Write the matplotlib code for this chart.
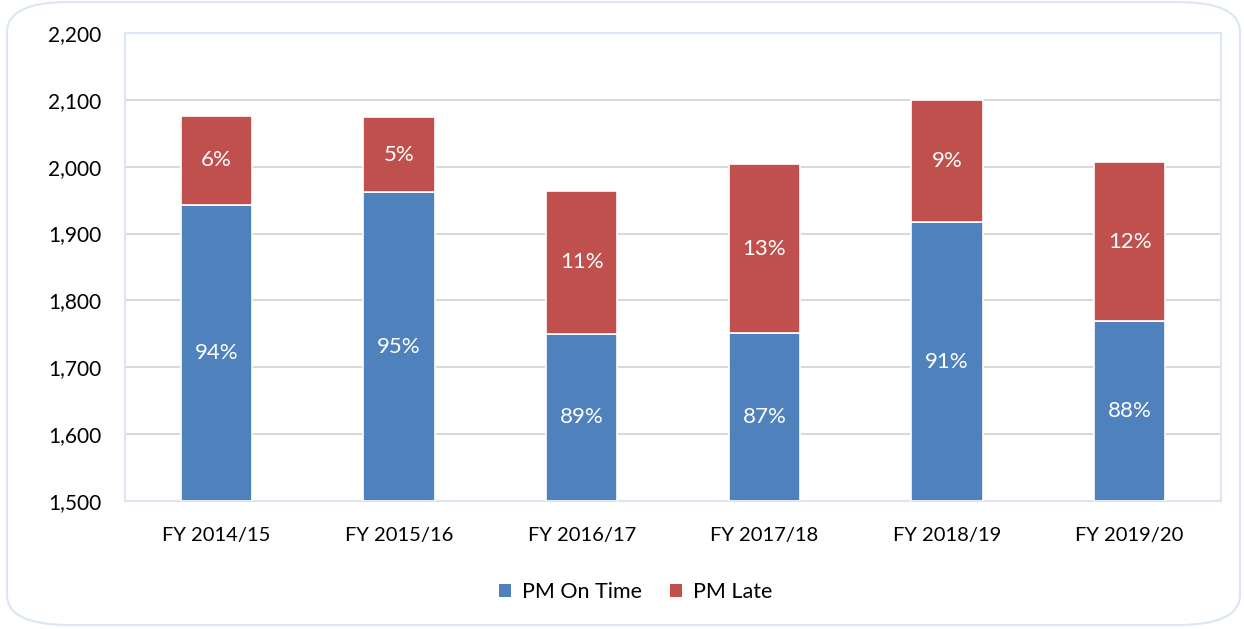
import numpy as np
import matplotlib
matplotlib.use('Agg')
from matplotlib import pyplot as plt
from matplotlib.patches import FancyBboxPatch

plt.rcParams['font.family'] = ['Lato', 'DejaVu Sans']

years = ['FY 2014/15', 'FY 2015/16', 'FY 2016/17', 'FY 2017/18', 'FY 2018/19', 'FY 2019/20']
on_time = [1943, 1962, 1750, 1751, 1917, 1769]
late = [133, 112, 214, 253, 183, 238]
on_time_pct = ['94%', '95%', '89%', '87%', '91%', '88%']
late_pct = ['6%', '5%', '11%', '13%', '9%', '12%']

blue = '#4f81bd'
red = '#c0504d'

fig = plt.figure(figsize=(12.44, 6.29), dpi=100)
ax = fig.add_axes([125/1244, 1 - 501/629, (1221-125)/1244, (501-33)/629])

# rounded frame around the whole chart
frame = FancyBboxPatch((7/1244, 4/629), (1240-7)/1244, (627-4)/629,
                       boxstyle='round,pad=0,rounding_size=0.05',
                       transform=fig.transFigure, facecolor='none',
                       edgecolor='#dce6f2', linewidth=1.5, mutation_aspect=629/1244*1.9)
fig.patches.append(frame)

x = np.arange(len(years))
base = 1500
w = 0.39
ax.bar(x, np.array(on_time) - base, bottom=base, width=w, color=blue,
       edgecolor='white', linewidth=1.2, label='PM On Time', zorder=3)
ax.bar(x, late, bottom=on_time, width=w, color=red,
       edgecolor='white', linewidth=1.2, label='PM Late', zorder=3)

for i in range(len(years)):
    ax.text(x[i], (base + on_time[i]) / 2, on_time_pct[i], ha='center', va='center',
            color='white', fontsize=16, zorder=4)
    ax.text(x[i], on_time[i] + late[i] / 2, late_pct[i], ha='center', va='center',
            color='white', fontsize=16, zorder=4)

ax.set_ylim(1500, 2200)
ax.set_xlim(-0.5, len(years) - 0.5)
ax.set_yticks(range(1500, 2201, 100))
ax.set_yticklabels([f'{v:,}' for v in range(1500, 2201, 100)])
ax.set_xticks(x)
ax.set_xticklabels(years)
ax.tick_params(axis='y', length=0, labelsize=15, colors='black', pad=17)
ax.tick_params(axis='x', length=0, labelsize=14.5, colors='black', pad=19)
ax.yaxis.grid(True, color='#d9d9d9', linewidth=1.5, zorder=0)
for s in ax.spines.values():
    s.set_color('#dce6f2')
    s.set_linewidth(1.5)

handles, labels = ax.get_legend_handles_labels()
leg = fig.legend(handles, labels, loc='center', bbox_to_anchor=(0.511, 1 - 592/629),
                 ncol=2, frameon=False, fontsize=15.5, handlelength=0.55,
                 handleheight=0.55, handletextpad=0.5, columnspacing=1.3)
for h in leg.legend_handles:
    h.set_edgecolor('none')

fig.savefig('out.png', dpi=100)
